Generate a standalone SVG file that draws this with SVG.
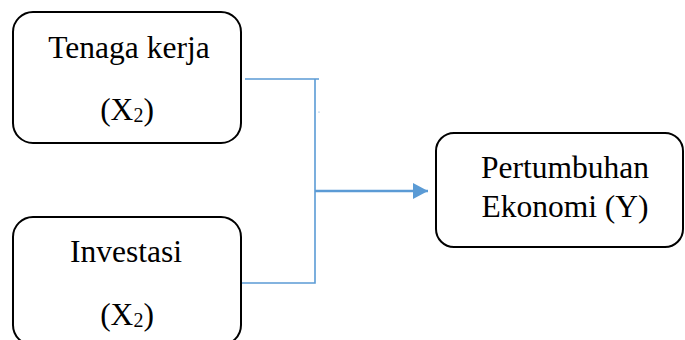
<svg xmlns="http://www.w3.org/2000/svg" width="685" height="340" viewBox="0 0 685 340">
<style>
.box{fill:#fff;stroke:#000;stroke-width:2}
text{font-family:'Liberation Serif','DejaVu Serif',serif;font-size:31.5px;fill:#000;text-anchor:middle}
.sub{font-size:20px}
.ln{fill:none;stroke:#5B9BD5;stroke-width:1.6}
.arr{fill:none;stroke:#5B9BD5;stroke-width:2.6}
</style>
<defs>
<marker id="ah" viewBox="0 0 15 16" refX="15" refY="8" markerWidth="15" markerHeight="16" markerUnits="userSpaceOnUse" orient="auto">
<path d="M0,0 L15,8 L0,16 Z" fill="#5B9BD5"/>
</marker>
</defs>
<g id="connectors">
<path class="ln" d="M245,79 H319 M315,79 V283 H241"/>
<path class="arr" d="M315,191 H428" marker-end="url(#ah)"/>
<circle cx="319" cy="112" r="0.6" fill="#5B9BD5"/>
</g>
<g id="tenaga">
<rect class="box" x="13" y="12" width="228" height="131" rx="20"/>
<text x="129" y="58" font-family="Liberation Serif, serif">Tenaga kerja</text>
<text x="127" y="120" font-family="Liberation Serif, serif">(X<tspan class="sub" dy="2">2</tspan><tspan dy="-2">)</tspan></text>
</g>
<g id="investasi">
<rect class="box" x="13" y="217" width="228" height="128" rx="20"/>
<text x="126" y="262" font-family="Liberation Serif, serif">Investasi</text>
<text x="127" y="325" font-family="Liberation Serif, serif">(X<tspan class="sub" dy="2">2</tspan><tspan dy="-2">)</tspan></text>
</g>
<g id="pertumbuhan">
<rect class="box" x="436" y="133" width="247" height="114" rx="18"/>
<text x="565" y="178" font-family="Liberation Serif, serif">Pertumbuhan</text>
<text x="565" y="217" font-family="Liberation Serif, serif">Ekonomi (Y)</text>
</g>
</svg>
